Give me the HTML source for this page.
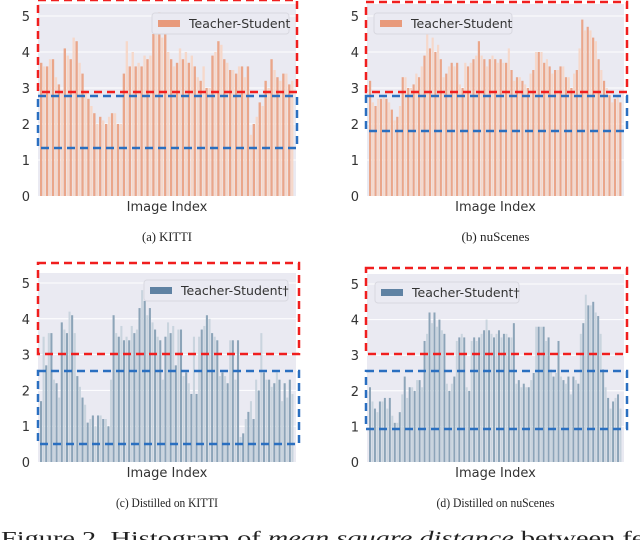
<!DOCTYPE html>
<html><head><meta charset="utf-8"><style>
body{margin:0;background:#fff;width:640px;height:540px;overflow:hidden}
svg{display:block}
</style></head><body>
<svg id="fig" width="640" height="540" xmlns="http://www.w3.org/2000/svg" font-family="DejaVu Sans, Liberation Sans, sans-serif"></svg>
<script>
const kittiValues=[3.7,3.6,3.6,3.8,3.8,3.3,3.1,2.9,4.1,3.9,3.8,4.4,4.3,3.7,3.4,2.9,2.7,2.5,2.3,2.0,2.2,2.1,2.0,2.2,2.3,2.3,2.0,2.0,3.4,4.3,3.6,4.0,3.6,3.7,3.6,3.9,3.8,3.9,4.5,5.0,5.1,4.4,4.6,4.0,3.8,3.6,3.7,4.1,3.8,4.0,3.7,3.9,3.6,3.3,3.2,3.6,3.0,3.0,3.9,4.0,4.3,4.2,3.8,3.7,3.5,3.5,3.4,3.6,3.6,3.3,3.6,1.7,2.0,2.2,2.6,2.5,3.2,3.0,3.8,3.5,3.3,3.2,3.4,3.4,3.1,3.2];
const nuscValues=[3.2,2.6,2.5,2.7,2.7,2.8,2.7,2.6,2.4,2.1,2.2,2.5,3.3,3.3,3.0,3.0,3.1,3.4,3.3,3.6,3.9,4.5,4.1,4.4,4.0,4.2,3.8,3.3,3.4,3.6,3.7,3.6,3.7,3.1,3.0,3.7,3.6,3.7,3.8,3.9,4.3,3.9,3.8,3.6,3.8,3.9,3.8,3.7,3.8,3.7,3.7,4.1,3.5,3.2,3.3,3.3,3.2,3.1,3.0,3.4,3.5,4.0,4.0,4.0,3.7,3.8,3.6,3.4,3.5,3.5,3.6,3.6,3.3,3.3,3.0,3.4,3.5,4.1,4.9,4.6,4.7,4.6,4.4,4.3,3.8,3.5,3.2,3.0,2.8,2.6,2.7,2.8,2.6];
const distKittiValues=[1.7,3.5,2.7,3.6,3.6,2.3,2.2,1.8,3.9,3.7,3.6,4.2,4.1,3.6,2.4,2.1,1.8,1.6,1.1,1.2,1.3,1.0,1.3,1.3,1.2,1.2,1.0,2.3,4.1,3.6,3.5,3.8,3.4,3.5,3.4,3.8,3.6,3.7,4.3,4.8,4.5,4.1,4.3,3.9,3.7,3.5,3.4,2.3,3.5,3.9,3.6,3.8,2.7,3.7,3.7,2.4,2.5,2.2,1.9,3.5,1.9,3.5,3.7,3.8,4.1,4.0,3.6,3.5,3.4,2.4,2.5,2.4,2.2,3.4,3.4,2.3,3.4,0.7,0.8,1.2,1.4,1.7,1.2,2.3,2.0,3.6,2.5,2.3,2.3,2.1,2.2,2.5,2.3,1.7,2.2,1.8,2.3,1.9];
const distNuscValues=[2.1,1.7,1.5,1.4,1.7,1.7,1.8,1.5,1.8,1.3,1.1,1.1,1.4,1.9,2.4,1.8,2.1,2.1,2.0,2.3,2.3,2.1,3.4,3.6,4.2,3.9,4.2,3.8,4.0,3.7,3.6,2.2,2.0,2.2,2.4,3.4,3.5,3.6,3.5,2.1,2.0,3.4,3.5,3.4,3.5,3.6,3.7,4.0,3.7,3.6,3.5,3.6,3.7,3.5,3.6,3.6,3.5,3.5,3.9,2.2,2.3,2.1,2.2,2.1,2.1,2.3,2.5,3.8,3.8,3.8,3.8,3.4,3.5,2.6,2.4,2.5,3.4,2.4,2.3,2.2,2.4,1.9,2.4,2.3,2.2,3.6,3.9,4.7,4.4,4.4,4.5,4.2,4.1,3.6,2.6,2.1,1.8,1.5,1.7,1.8,1.9,1.5];
const yTicks=[0,1,2,3,4,5];
const NS="http://www.w3.org/2000/svg";
const svg=document.getElementById('fig');
function mk(tag,attrs,parent){const e=document.createElementNS(NS,tag);for(const k in attrs)e.setAttribute(k,attrs[k]);(parent||svg).appendChild(e);return e;}
const panels=[
 {id:'a',vals:kittiValues,x0:40,x1:294,y0:196,y5:16,bgTop:4,color:'#eaa68a',light:'#f6d8ca',leg:[152,13,137],legText:'Teacher-Student',dag:false,cap:'(a) KITTI',capW:50,capY:241,red:[38,0,259,92],blue:[38,96,259,52]},
 {id:'b',vals:nuscValues,x0:369,x1:622,y0:196,y5:16,bgTop:4,color:'#eaa68a',light:'#f6d8ca',leg:[374,13,138],legText:'Teacher-Student',dag:false,cap:'(b) nuScenes',capW:68,capY:241,red:[366,2,261,90],blue:[366,96,261,35]},
 {id:'c',vals:distKittiValues,x0:40,x1:294,y0:462,y5:283,bgTop:273,color:'#8ca4b8',light:'#c9d4de',leg:[144,280,144],legText:'Teacher-Student',dag:true,cap:'(c) Distilled on KITTI',capW:102,capY:507,red:[38,263,261,91],blue:[38,371,261,73]},
 {id:'d',vals:distNuscValues,x0:369,x1:622,y0:462,y5:284,bgTop:274,color:'#8ca4b8',light:'#c9d4de',leg:[375,282,144],legText:'Teacher-Student',dag:true,cap:'(d) Distilled on nuScenes',capW:118,capY:507,red:[366,268,261,86],blue:[366,371,261,58]}
];
panels.forEach(p=>{
 const g=mk('g',{});
 
 
 const yS=v=>p.y0-(p.y0-p.y5)*v/5;
 const bg=mk('rect',{x:p.x0-2,y:p.bgTop,width:p.x1-p.x0+4,height:p.y0-p.bgTop,fill:'#eaeaf2'},g);
 
 
 yTicks.forEach(t=>{
  if(t>0){const gl=mk('line',{x1:p.x0-2,x2:p.x1+2,y1:yS(t),y2:yS(t),stroke:'#fff','stroke-width':1},g);
  
  }
  const tl=mk('text',{x:p.x0-10,y:yS(t)+5,'text-anchor':'end','font-size':13,fill:'#333'},g);
  tl.textContent=t;
  
  
 });
 const n=p.vals.length, w=(p.x1-p.x0)/n;
 p.vals.forEach((v,i)=>{
  const b=mk('rect',{x:p.x0+i*w,y:yS(v),width:w*0.8,height:p.y0-yS(v),fill:(i%2?p.light:p.color)},g);
  
  
 });
 const xl=mk('text',{x:(p.x0+p.x1)/2,y:p.y0+15,'text-anchor':'middle','font-size':13,fill:'#333'},g);
 xl.textContent='Image Index';
 
 
 const [lx,ly,lw]=p.leg;
 const lg=mk('g',{},g);
 
 
 mk('rect',{x:lx,y:ly,width:lw,height:21,rx:3,fill:'#eaeaf2',stroke:'#d8d8e0'},lg);
 mk('rect',{x:lx+6,y:ly+7,width:22,height:7,fill:p.id<'c'?'#e89a7c':'#5f82a3'},lg);
 const lt=mk('text',{x:lx+37,y:ly+15,'font-size':12.5,fill:'#333'},lg);
 lt.textContent=p.legText+(p.dag?'†':'');
 const r=mk('rect',{x:p.red[0],y:p.red[1],width:p.red[2],height:p.red[3],fill:'none',stroke:'#f01e1e','stroke-width':2.5,'stroke-dasharray':'8,5'},g);
 
 
 const bl=mk('rect',{x:p.blue[0],y:p.blue[1],width:p.blue[2],height:p.blue[3],fill:'none',stroke:'#2a6fc0','stroke-width':2.5,'stroke-dasharray':'8,5'},g);
 
 
 const c=mk('text',{x:(p.x0+p.x1)/2-p.capW/2,y:p.capY,'font-size':13,'font-family':'Liberation Serif, serif',fill:'#222',textLength:p.capW,lengthAdjust:'spacingAndGlyphs'},g);
 c.textContent=p.cap;
 
 
});
const fc=mk('text',{x:1,y:545,'font-size':20,'font-family':'Liberation Serif, serif',fill:'#222',textLength:700,lengthAdjust:'spacingAndGlyphs'});


fc.innerHTML='Figure 2. Histogram of <tspan font-style="italic">mean square distance</tspan> between feature';
</script>
</body></html>
